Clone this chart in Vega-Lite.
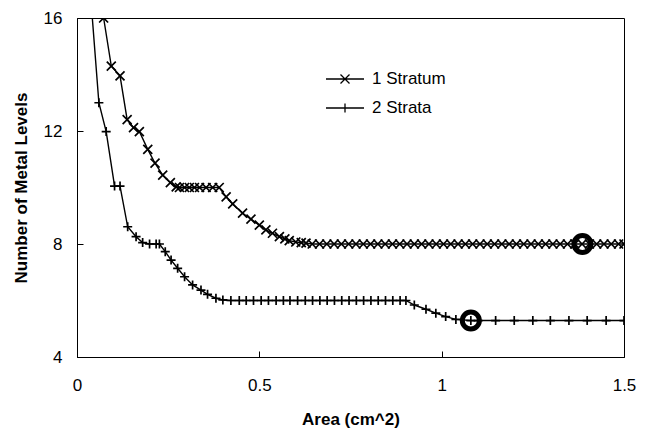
{
  "$schema": "https://vega.github.io/schema/vega-lite/v6.json",
  "autosize": "none",
  "width": 547,
  "height": 339,
  "padding": {"left": 77, "top": 18, "right": 21, "bottom": 72},
  "background": "white",
  "config": {
    "font": "Liberation Sans",
    "view": {"stroke": "black", "strokeWidth": 1},
    "axis": {
      "grid": false,
      "domainColor": "black",
      "domainWidth": 1,
      "tickColor": "black",
      "tickWidth": 1,
      "tickSize": -6,
      "labelFont": "Liberation Sans",
      "labelFontSize": 17,
      "labelColor": "black",
      "titleFont": "Liberation Sans",
      "titleFontSize": 17,
      "titleFontWeight": "bold",
      "titleColor": "black"
    }
  },
  "datasets": {
    "main": [
      {"series": "1 Stratum", "area": 0.073, "levels": 16},
      {"series": "1 Stratum", "area": 0.094, "levels": 14.3},
      {"series": "1 Stratum", "area": 0.118, "levels": 13.95},
      {"series": "1 Stratum", "area": 0.1375, "levels": 12.4},
      {"series": "1 Stratum", "area": 0.155, "levels": 12.12},
      {"series": "1 Stratum", "area": 0.171, "levels": 11.98},
      {"series": "1 Stratum", "area": 0.194, "levels": 11.35},
      {"series": "1 Stratum", "area": 0.214, "levels": 10.86},
      {"series": "1 Stratum", "area": 0.235, "levels": 10.44},
      {"series": "1 Stratum", "area": 0.256, "levels": 10.17},
      {"series": "1 Stratum", "area": 0.272, "levels": 10.02},
      {"series": "1 Stratum", "area": 0.281, "levels": 10.0},
      {"series": "1 Stratum", "area": 0.295, "levels": 10.0},
      {"series": "1 Stratum", "area": 0.308, "levels": 10.0},
      {"series": "1 Stratum", "area": 0.322, "levels": 10.0},
      {"series": "1 Stratum", "area": 0.336, "levels": 10.0},
      {"series": "1 Stratum", "area": 0.354, "levels": 10.0},
      {"series": "1 Stratum", "area": 0.372, "levels": 10.0},
      {"series": "1 Stratum", "area": 0.39, "levels": 10.0},
      {"series": "1 Stratum", "area": 0.409, "levels": 9.67},
      {"series": "1 Stratum", "area": 0.427, "levels": 9.42},
      {"series": "1 Stratum", "area": 0.454, "levels": 9.09},
      {"series": "1 Stratum", "area": 0.477, "levels": 8.88},
      {"series": "1 Stratum", "area": 0.5, "levels": 8.67},
      {"series": "1 Stratum", "area": 0.518, "levels": 8.5},
      {"series": "1 Stratum", "area": 0.536, "levels": 8.38},
      {"series": "1 Stratum", "area": 0.555, "levels": 8.26},
      {"series": "1 Stratum", "area": 0.57, "levels": 8.18},
      {"series": "1 Stratum", "area": 0.582, "levels": 8.12},
      {"series": "1 Stratum", "area": 0.6, "levels": 8.07},
      {"series": "1 Stratum", "area": 0.615, "levels": 8.05},
      {"series": "1 Stratum", "area": 0.628, "levels": 8.03},
      {"series": "1 Stratum", "area": 0.645, "levels": 8.0},
      {"series": "1 Stratum", "area": 0.665, "levels": 8.0},
      {"series": "1 Stratum", "area": 0.685, "levels": 8.0},
      {"series": "1 Stratum", "area": 0.705, "levels": 8.0},
      {"series": "1 Stratum", "area": 0.725, "levels": 8.0},
      {"series": "1 Stratum", "area": 0.745, "levels": 8.0},
      {"series": "1 Stratum", "area": 0.765, "levels": 8.0},
      {"series": "1 Stratum", "area": 0.785, "levels": 8.0},
      {"series": "1 Stratum", "area": 0.805, "levels": 8.0},
      {"series": "1 Stratum", "area": 0.825, "levels": 8.0},
      {"series": "1 Stratum", "area": 0.845, "levels": 8.0},
      {"series": "1 Stratum", "area": 0.865, "levels": 8.0},
      {"series": "1 Stratum", "area": 0.885, "levels": 8.0},
      {"series": "1 Stratum", "area": 0.905, "levels": 8.0},
      {"series": "1 Stratum", "area": 0.925, "levels": 8.0},
      {"series": "1 Stratum", "area": 0.945, "levels": 8.0},
      {"series": "1 Stratum", "area": 0.965, "levels": 8.0},
      {"series": "1 Stratum", "area": 0.985, "levels": 8.0},
      {"series": "1 Stratum", "area": 1.005, "levels": 8.0},
      {"series": "1 Stratum", "area": 1.025, "levels": 8.0},
      {"series": "1 Stratum", "area": 1.045, "levels": 8.0},
      {"series": "1 Stratum", "area": 1.065, "levels": 8.0},
      {"series": "1 Stratum", "area": 1.085, "levels": 8.0},
      {"series": "1 Stratum", "area": 1.105, "levels": 8.0},
      {"series": "1 Stratum", "area": 1.125, "levels": 8.0},
      {"series": "1 Stratum", "area": 1.145, "levels": 8.0},
      {"series": "1 Stratum", "area": 1.165, "levels": 8.0},
      {"series": "1 Stratum", "area": 1.185, "levels": 8.0},
      {"series": "1 Stratum", "area": 1.205, "levels": 8.0},
      {"series": "1 Stratum", "area": 1.225, "levels": 8.0},
      {"series": "1 Stratum", "area": 1.245, "levels": 8.0},
      {"series": "1 Stratum", "area": 1.265, "levels": 8.0},
      {"series": "1 Stratum", "area": 1.285, "levels": 8.0},
      {"series": "1 Stratum", "area": 1.305, "levels": 8.0},
      {"series": "1 Stratum", "area": 1.325, "levels": 8.0},
      {"series": "1 Stratum", "area": 1.345, "levels": 8.0},
      {"series": "1 Stratum", "area": 1.365, "levels": 8.0},
      {"series": "1 Stratum", "area": 1.385, "levels": 8.0},
      {"series": "1 Stratum", "area": 1.405, "levels": 8.0},
      {"series": "1 Stratum", "area": 1.425, "levels": 8.0},
      {"series": "1 Stratum", "area": 1.445, "levels": 8.0},
      {"series": "1 Stratum", "area": 1.465, "levels": 8.0},
      {"series": "1 Stratum", "area": 1.485, "levels": 8.0},
      {"series": "1 Stratum", "area": 1.5, "levels": 8.0},
      {"series": "2 Strata", "area": 0.03, "levels": 18},
      {"series": "2 Strata", "area": 0.06, "levels": 13.0},
      {"series": "2 Strata", "area": 0.08, "levels": 11.98},
      {"series": "2 Strata", "area": 0.103, "levels": 10.05},
      {"series": "2 Strata", "area": 0.118, "levels": 10.05},
      {"series": "2 Strata", "area": 0.139, "levels": 8.61},
      {"series": "2 Strata", "area": 0.162, "levels": 8.26},
      {"series": "2 Strata", "area": 0.18, "levels": 8.05},
      {"series": "2 Strata", "area": 0.199, "levels": 8.0},
      {"series": "2 Strata", "area": 0.217, "levels": 8.0},
      {"series": "2 Strata", "area": 0.226, "levels": 8.0},
      {"series": "2 Strata", "area": 0.242, "levels": 7.73},
      {"series": "2 Strata", "area": 0.258, "levels": 7.43},
      {"series": "2 Strata", "area": 0.276, "levels": 7.14},
      {"series": "2 Strata", "area": 0.295, "levels": 6.84},
      {"series": "2 Strata", "area": 0.317, "levels": 6.55},
      {"series": "2 Strata", "area": 0.34, "levels": 6.37},
      {"series": "2 Strata", "area": 0.358, "levels": 6.22},
      {"series": "2 Strata", "area": 0.381, "levels": 6.08},
      {"series": "2 Strata", "area": 0.4, "levels": 6.02},
      {"series": "2 Strata", "area": 0.422, "levels": 6.0},
      {"series": "2 Strata", "area": 0.445, "levels": 6.0},
      {"series": "2 Strata", "area": 0.464, "levels": 6.0},
      {"series": "2 Strata", "area": 0.484, "levels": 6.0},
      {"series": "2 Strata", "area": 0.505, "levels": 6.0},
      {"series": "2 Strata", "area": 0.525, "levels": 6.0},
      {"series": "2 Strata", "area": 0.546, "levels": 6.0},
      {"series": "2 Strata", "area": 0.566, "levels": 6.0},
      {"series": "2 Strata", "area": 0.584, "levels": 6.0},
      {"series": "2 Strata", "area": 0.605, "levels": 6.0},
      {"series": "2 Strata", "area": 0.626, "levels": 6.0},
      {"series": "2 Strata", "area": 0.646, "levels": 6.0},
      {"series": "2 Strata", "area": 0.666, "levels": 6.0},
      {"series": "2 Strata", "area": 0.686, "levels": 6.0},
      {"series": "2 Strata", "area": 0.706, "levels": 6.0},
      {"series": "2 Strata", "area": 0.726, "levels": 6.0},
      {"series": "2 Strata", "area": 0.746, "levels": 6.0},
      {"series": "2 Strata", "area": 0.766, "levels": 6.0},
      {"series": "2 Strata", "area": 0.786, "levels": 6.0},
      {"series": "2 Strata", "area": 0.806, "levels": 6.0},
      {"series": "2 Strata", "area": 0.826, "levels": 6.0},
      {"series": "2 Strata", "area": 0.846, "levels": 6.0},
      {"series": "2 Strata", "area": 0.866, "levels": 6.0},
      {"series": "2 Strata", "area": 0.886, "levels": 6.0},
      {"series": "2 Strata", "area": 0.902, "levels": 6.0},
      {"series": "2 Strata", "area": 0.925, "levels": 5.84},
      {"series": "2 Strata", "area": 0.957, "levels": 5.69},
      {"series": "2 Strata", "area": 0.984, "levels": 5.55},
      {"series": "2 Strata", "area": 1.011, "levels": 5.43},
      {"series": "2 Strata", "area": 1.039, "levels": 5.33},
      {"series": "2 Strata", "area": 1.08, "levels": 5.29},
      {"series": "2 Strata", "area": 1.1, "levels": 5.29},
      {"series": "2 Strata", "area": 1.148, "levels": 5.29},
      {"series": "2 Strata", "area": 1.199, "levels": 5.29},
      {"series": "2 Strata", "area": 1.25, "levels": 5.29},
      {"series": "2 Strata", "area": 1.298, "levels": 5.29},
      {"series": "2 Strata", "area": 1.349, "levels": 5.29},
      {"series": "2 Strata", "area": 1.399, "levels": 5.29},
      {"series": "2 Strata", "area": 1.451, "levels": 5.29},
      {"series": "2 Strata", "area": 1.5, "levels": 5.29}
    ],
    "highlights": [
      {"area": 1.386, "levels": 8.0},
      {"area": 1.08, "levels": 5.29}
    ]
  },
  "encoding": {
    "x": {
      "field": "area",
      "type": "quantitative",
      "scale": {"domain": [0, 1.5], "nice": false, "zero": false},
      "axis": {
        "values": [0, 0.5, 1, 1.5],
        "format": "~g",
        "title": "Area (cm^2)",
        "labelPadding": 26,
        "titlePadding": 18,
        "labelFlush": false
      }
    },
    "y": {
      "field": "levels",
      "type": "quantitative",
      "scale": {"domain": [4, 16], "nice": false, "zero": false},
      "axis": {
        "values": [4, 8, 12, 16],
        "title": "Number of Metal Levels",
        "labelPadding": 21,
        "titlePadding": 13,
        "labelFlush": false
      }
    }
  },
  "layer": [
    {
      "data": {"name": "main"},
      "mark": {"type": "line", "color": "black", "strokeWidth": 1.4, "clip": true},
      "encoding": {"detail": {"field": "series"}}
    },
    {
      "data": {"name": "main"},
      "mark": {"type": "point", "filled": false, "color": "black", "strokeWidth": 1.7, "size": 81, "opacity": 1, "clip": true},
      "encoding": {
        "shape": {
          "field": "series",
          "type": "nominal",
          "scale": {"domain": ["1 Stratum", "2 Strata"], "range": ["M-1,-1L1,1M-1,1L1,-1", "M0,-1V1M-1,0H1"]},
          "legend": null
        }
      }
    },
    {
      "data": {"name": "main"},
      "transform": [{"filter": "false"}],
      "mark": {"type": "point", "filled": false, "color": "black", "strokeWidth": 1.5, "opacity": 1},
      "encoding": {
        "shape": {
          "field": "series",
          "type": "nominal",
          "scale": {"domain": ["1 Stratum", "2 Strata"], "range": ["M-1.9,0H1.9M-0.45,-0.45L0.45,0.45M-0.45,0.45L0.45,-0.45", "M-1.9,0H1.9M0,-0.45V0.45"]},
          "legend": {
            "title": null,
            "orient": "none",
            "legendX": 257,
            "legendY": 50,
            "symbolSize": 400,
            "symbolStrokeColor": "black",
            "symbolStrokeWidth": 1.3,
            "symbolFillColor": "transparent",
            "symbolOpacity": 1,
            "labelFont": "Liberation Sans",
            "labelFontSize": 17,
            "labelColor": "black",
            "labelOffset": 16,
            "rowPadding": 10,
            "padding": 0
          }
        }
      }
    },
    {
      "data": {"name": "highlights"},
      "mark": {"type": "point", "shape": "circle", "filled": false, "color": "black", "strokeWidth": 5, "size": 290, "opacity": 1, "clip": true}
    }
  ],
  "resolve": {"scale": {"shape": "independent"}, "legend": {"shape": "independent"}}
}
